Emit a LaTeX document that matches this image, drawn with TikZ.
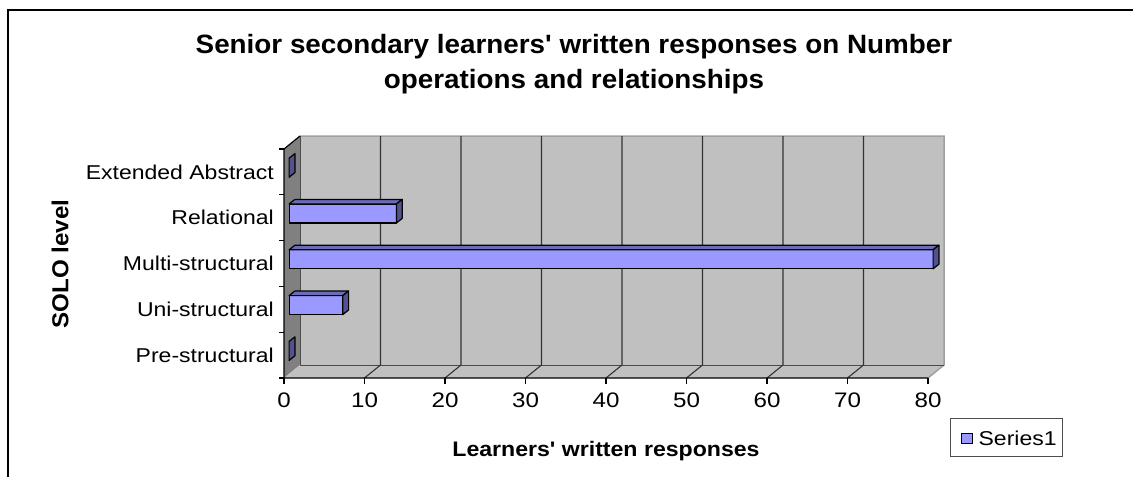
\documentclass[tikz,border=0pt]{standalone}
\usepackage{fontspec}
\setmainfont{Liberation Sans}
\usetikzlibrary{positioning}
\definecolor{barfrontc}{HTML}{9999FF}
\definecolor{bartopc}{HTML}{6B6BB8}
\definecolor{barsidec}{HTML}{52528F}
\definecolor{wallc}{HTML}{C0C0C0}
\definecolor{sidewallc}{HTML}{808080}
\definecolor{edgec}{HTML}{A0A0A0}

\begin{document}
\begin{tikzpicture}[x=1pt,y=-1pt,
frame/.style={line width=2pt,black},
wall/.style={fill=wallc},
sidewall/.style={fill=sidewallc},
griglia/.style={line width=1.1pt,black!80},
asse/.style={line width=1.2pt,black},
barfront/.style={fill=barfrontc,draw=black,line width=1.2pt,line join=round},
bartop/.style={fill=bartopc,draw=black,line width=1.2pt,line join=round},
barside/.style={fill=barsidec,draw=black,line width=1.2pt,line join=round},
titolo/.style={font=\fontsize{26.5}{35}\selectfont\bfseries,align=center,xscale=1.05,inner sep=0},
categoria/.style={font=\fontsize{20}{24}\selectfont,anchor=east,xscale=1.15,inner sep=0},
numero/.style={font=\fontsize{21}{24}\selectfont,anchor=north,xscale=1.15,inner sep=0},
assetitolo/.style={font=\fontsize{21}{24}\selectfont\bfseries,xscale=1.1,inner sep=0},
legenda/.style={draw=black!70,line width=0.8pt,minimum width=112pt,minimum height=38pt,inner sep=0},
chiave/.style={fill=barfrontc,draw=black,line width=0.8pt,minimum width=11pt,minimum height=10pt,inner sep=0},
testoL/.style={font=\fontsize{20}{24}\selectfont,xscale=1.15,inner sep=0}
]
\useasboundingbox (0,0) rectangle (1133,477);
\draw[frame] (8.3,477) -- (8.3,10) -- (1133,10);
%--
\node[titolo] (title) at (574,64.5) {Senior secondary learners\textquotesingle{} written responses on Number\\operations and relationships};
%-- walls
\fill[wall] (300,136) rectangle (944,365);
\fill[sidewall] (284,149) -- (300,136) -- (300,365) -- (284,378) -- cycle;
\fill[wall] (284,378) -- (300,365) -- (944,365) -- (928,378) -- cycle;
\draw[edgec,line width=1.5pt] (300,136) -- (944,136) -- (944,365) -- (928,378);
\draw[black!70,line width=1pt] (300,136) -- (300,365) -- (944,365);
%-- grid
\draw[griglia] (380.5,136) -- (380.5,365) -- (364.5,378);
\draw[griglia] (461,136) -- (461,365) -- (445,378);
\draw[griglia] (541.5,136) -- (541.5,365) -- (525.5,378);
\draw[griglia] (622,136) -- (622,365) -- (606,378);
\draw[griglia] (702.5,136) -- (702.5,365) -- (686.5,378);
\draw[griglia] (783,136) -- (783,365) -- (767,378);
\draw[griglia] (863.5,136) -- (863.5,365) -- (847.5,378);
%-- axes
\draw[asse] (300,136) -- (284,149) -- (284,378) -- (928,378);
\draw[asse] (279,149) -- (284,149);
\draw[asse] (279,194.8) -- (284,194.8);
\draw[asse] (279,240.6) -- (284,240.6);
\draw[asse] (279,286.4) -- (284,286.4);
\draw[asse] (279,332.2) -- (284,332.2);
\draw[asse] (279,378) -- (284,378);
\draw[asse] (284,378) -- (284,384);
\draw[asse] (364.5,378) -- (364.5,384);
\draw[asse] (445,378) -- (445,384);
\draw[asse] (525.5,378) -- (525.5,384);
\draw[asse] (606,378) -- (606,384);
\draw[asse] (686.5,378) -- (686.5,384);
\draw[asse] (767,378) -- (767,384);
\draw[asse] (847.5,378) -- (847.5,384);
\draw[asse] (928,378) -- (928,384);
%-- bars
\filldraw[barfront] (289.1,158.2) rectangle (289.1,177.2);
\filldraw[barside] (289.1,158.2) -- ++(5.8,-4.6) -- ++(0,19) -- (289.1,177.2) -- cycle;
%--
\filldraw[barfront] (289.1,204) rectangle (396.4,223);
\filldraw[bartop] (289.1,204) -- ++(5.8,-4.6) -- ++(107.3,0) -- (396.4,204) -- cycle;
\filldraw[barside] (396.4,204) -- ++(5.8,-4.6) -- ++(0,19) -- (396.4,223) -- cycle;
%--
\filldraw[barfront] (289.1,249.8) rectangle (933.1,268.8);
\filldraw[bartop] (289.1,249.8) -- ++(5.8,-4.6) -- ++(644,0) -- (933.1,249.8) -- cycle;
\filldraw[barside] (933.1,249.8) -- ++(5.8,-4.6) -- ++(0,19) -- (933.1,268.8) -- cycle;
%--
\filldraw[barfront] (289.1,295.6) rectangle (342.8,314.6);
\filldraw[bartop] (289.1,295.6) -- ++(5.8,-4.6) -- ++(53.7,0) -- (342.8,295.6) -- cycle;
\filldraw[barside] (342.8,295.6) -- ++(5.8,-4.6) -- ++(0,19) -- (342.8,314.6) -- cycle;
%--
\filldraw[barfront] (289.1,341.4) rectangle (289.1,360.4);
\filldraw[barside] (289.1,341.4) -- ++(5.8,-4.6) -- ++(0,19) -- (289.1,360.4) -- cycle;
%-- category labels
\node[categoria] (ext) at (274,171.9) {Extended Abstract};
\node[categoria] (rel) at (274,217.7) {Relational};
\node[categoria] (mul) at (274,263.5) {Multi-structural};
\node[categoria] (uni) at (274,309.3) {Uni-structural};
\node[categoria] (pre) at (274,355.1) {Pre-structural};
%-- numbers
\node[numero] (n0) at (284,393) {0};
\node[numero] (n10) at (364.5,393) {10};
\node[numero] (n20) at (445,393) {20};
\node[numero] (n30) at (525.5,393) {30};
\node[numero] (n40) at (606,393) {40};
\node[numero] (n50) at (686.5,393) {50};
\node[numero] (n60) at (767,393) {60};
\node[numero] (n70) at (847.5,393) {70};
\node[numero] (n80) at (928,393) {80};
%-- axis titles
\node[assetitolo,anchor=base] (xtitle) at (606,456) {Learners\textquotesingle{} written responses};
\node[assetitolo,xscale=1,yscale=1.15,rotate=90] (ytitle) at (60,264) {SOLO level};
%-- legend
\node[legenda] (legend) at (1006,437) {};
\node[chiave] (key) at (966.5,438) {};
\node[testoL,right = 6pt of key.east,anchor=west] (series) {Series1};
\end{tikzpicture}
\end{document}
